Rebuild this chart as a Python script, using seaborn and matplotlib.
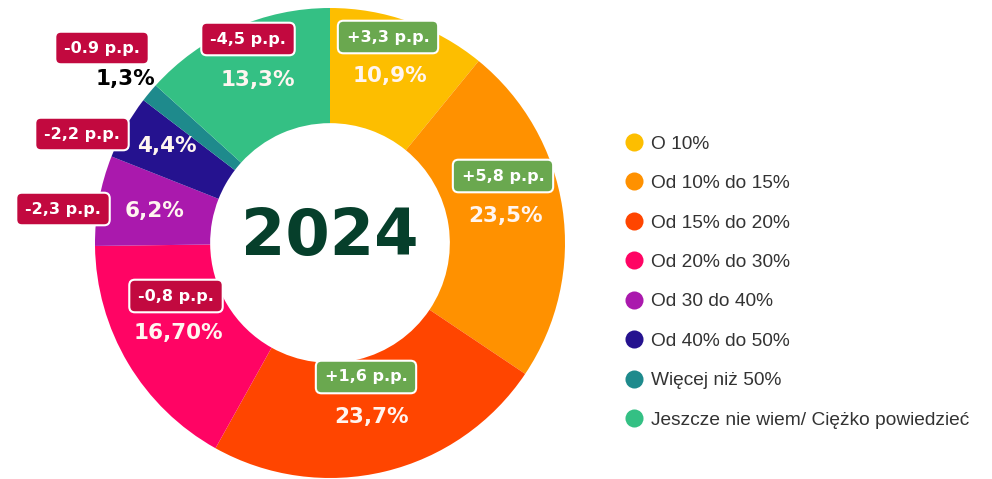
import matplotlib
matplotlib.use("Agg")
import matplotlib.pyplot as plt
import seaborn as sns
from matplotlib.lines import Line2D

sns.set_theme(style="white")
plt.rcParams['font.family'] = ['DejaVu Sans']

categories = ["O 10%", "Od 10% do 15%", "Od 15% do 20%", "Od 20% do 30%",
              "Od 30 do 40%", "Od 40% do 50%", "Więcej niż 50%",
              "Jeszcze nie wiem/ Ciężko powiedzieć"]
values = [10.9, 23.5, 23.7, 16.7, 6.2, 4.4, 1.3, 13.3]
value_labels = ["10,9%", "23,5%", "23,7%", "16,70%", "6,2%", "4,4%", "1,3%", "13,3%"]
change_labels = ["+3,3 p.p.", "+5,8 p.p.", "+1,6 p.p.", "-0,8 p.p.",
                 "-2,3 p.p.", "-2,2 p.p.", "-0.9 p.p.", "-4,5 p.p."]
colors = sns.color_palette(["#FDBE00", "#FF9100", "#FF4500", "#FF0464",
                            "#AA19AD", "#25128F", "#1E8A8C", "#34C084"])
title = "2024"

W, H = 992, 479
fig = plt.figure(figsize=(W / 100, H / 100), dpi=100)
ax = fig.add_axes([0, 0, 1, 1])
ax.set_xlim(0, W)
ax.set_ylim(0, H)
ax.axis("off")

cx, cy, R = 330, H - 243, 235
wedges, _ = ax.pie(values, colors=colors, startangle=90, counterclock=False,
                   center=(cx, cy), radius=R,
                   wedgeprops=dict(width=R * 0.49, linewidth=0))
ax.set_xlim(0, W)
ax.set_ylim(0, H)
ax.set_aspect("equal")

# label positions (pixel coords, top origin)
box_pos = [(388, 37), (503, 176), (366, 377), (176, 296),
           (63, 209), (82, 134), (102, 48), (248, 39)]
val_pos = [(390, 76), (505, 216), (372, 417), (178, 333),
           (155, 211), (167, 146), (125, 79), (258, 80)]

for i, (lab, ch) in enumerate(zip(value_labels, change_labels)):
    bx, by = box_pos[i]
    fc = "#6AA84F" if ch.startswith("+") else "#C2093F"
    ax.text(bx, H - by, ch, ha="center", va="center", fontsize=11.5,
            fontweight="bold", color="white",
            bbox=dict(boxstyle="round,pad=0.55,rounding_size=0.35", fc=fc,
                      ec="white", lw=1.5))
    vx, vy = val_pos[i]
    tc = "black" if i == 6 else "#FFF5F0"
    ax.text(vx, H - vy, lab, ha="center", va="center", fontsize=15.5,
            fontweight="heavy", color=tc)

ax.text(cx, H - 237, title, ha="center", va="center", fontsize=46,
        fontweight="bold", color="#063F2B")

handles = [Line2D([0], [0], marker="o", linestyle="", markersize=13,
                  markerfacecolor=c, markeredgewidth=0) for c in colors]
leg = ax.legend(handles, categories, loc="upper left",
                bbox_to_anchor=(606 / W, 1 - 118 / H), bbox_transform=fig.transFigure,
                frameon=False, prop={"family": "Liberation Sans", "size": 13.8},
                labelspacing=1.15, handletextpad=0.35, handlelength=1.1)
for t in leg.get_texts():
    t.set_color("#333333")

fig.savefig("out.png", dpi=100)
